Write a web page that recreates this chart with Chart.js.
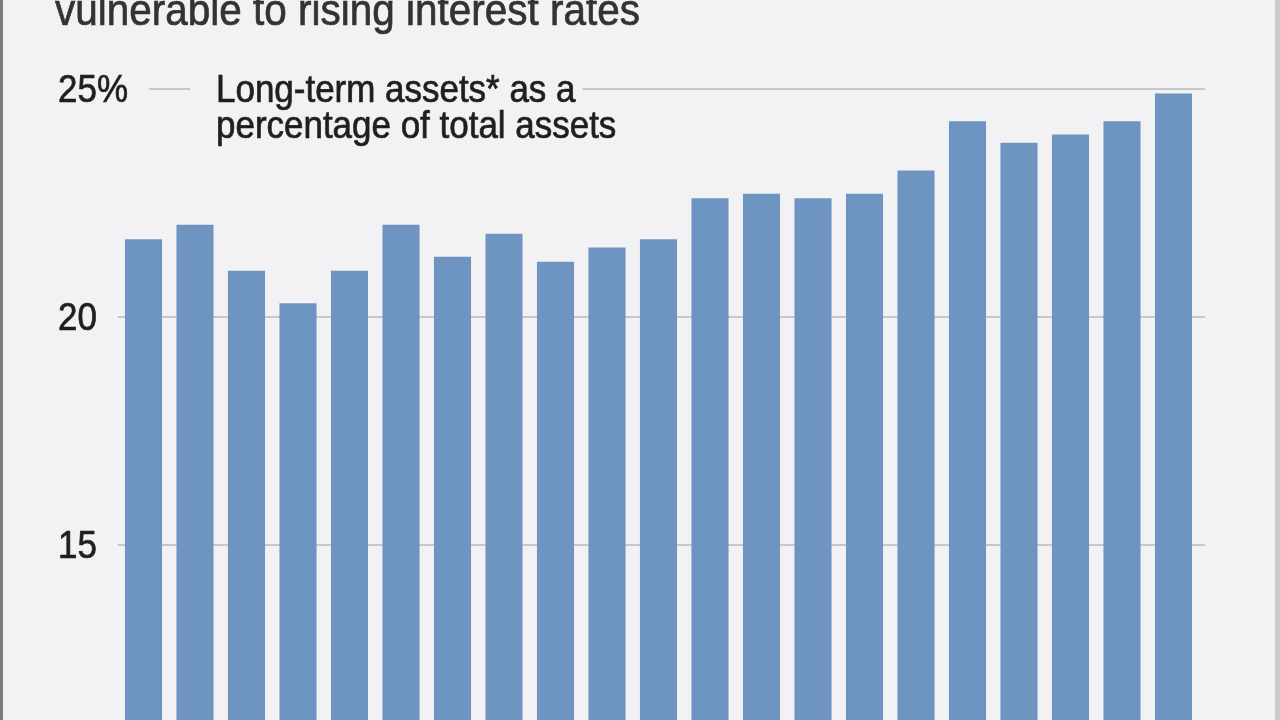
<!DOCTYPE html>
<html lang="en">
<head>
    <meta charset="UTF-8">
    <title>Long-term assets as a percentage of total assets</title>
    <script src="https://cdn.jsdelivr.net/npm/chart.js"></script>
    <style>
        html, body { margin: 0; padding: 0; background: #f2f2f4; }
        .frame {
            position: relative;
            width: 1280px;
            height: 720px;
            overflow: hidden;
            box-sizing: border-box;
            border-left: 3px solid #7d7d7f;
            border-right: 5px solid #cbcbcd;
            background: #f2f2f4;
        }
        canvas { position: absolute; left: -3px; top: 0; }
    </style>
</head>
<body>
    <div class="frame">
        <canvas id="chart" width="1280" height="720"></canvas>
    </div>
    <script>
        // Data (one bar per period, oldest first)
        const periods = ['1', '2', '3', '4', '5', '6', '7', '8', '9', '10', '11',
                         '12', '13', '14', '15', '16', '17', '18', '19', '20', '21'];
        const shares = [21.71, 22.03, 21.02, 20.31, 21.02, 22.03, 21.33, 21.83, 21.22, 21.53, 21.71,
                        22.61, 22.71, 22.61, 22.71, 23.22, 24.30, 23.83, 24.01, 24.30, 24.91];
        const yTicks = [15, 20, 25];
        const yTickLabels = ['15', '20', '25%'];
        const titleText = 'vulnerable to rising interest rates';
        const noteLines = ['Long-term assets* as a', 'percentage of total assets'];

        const FONT = "'Liberation Sans', Arial, sans-serif";
        const SQUEEZE = 0.92; // condensed look of the original typeface

        // text drawn narrower than the installed font, left aligned at x
        function narrowText(ctx, text, x, y) {
            ctx.save();
            ctx.translate(x, y);
            ctx.scale(SQUEEZE, 1);
            ctx.fillText(text, 0, 0);
            ctx.strokeStyle = ctx.fillStyle;
            ctx.lineWidth = 0.7;
            ctx.strokeText(text, 0, 0);
            ctx.restore();
        }
        function narrowWidth(ctx, text) {
            return ctx.measureText(text).width * SQUEEZE;
        }

        // gridlines, tick labels, title and note are placed from the y scale
        const decorations = {
            id: 'decorations',
            beforeDatasetsDraw(chart) {
                const ctx = chart.ctx;
                const yScale = chart.scales.y;
                ctx.save();
                ctx.font = '38px ' + FONT;
                const noteX = 216;
                const gapStart = noteX - 26;
                const gapEnd = noteX + narrowWidth(ctx, noteLines[0]) + 7;

                yTicks.forEach((v, i) => {
                    const y = Math.round(yScale.getPixelForValue(v));
                    const x0 = 58 + narrowWidth(ctx, yTickLabels[i]) + 21;
                    const x1 = 1205;
                    ctx.strokeStyle = '#c8c8ca';
                    ctx.lineWidth = 2;
                    ctx.beginPath();
                    if (i === yTicks.length - 1) {
                        ctx.moveTo(x0, y); ctx.lineTo(gapStart, y);
                        ctx.moveTo(gapEnd, y); ctx.lineTo(x1, y);
                    } else {
                        ctx.moveTo(x0, y); ctx.lineTo(x1, y);
                    }
                    ctx.stroke();
                });
                ctx.restore();
            },
            afterDraw(chart) {
                const ctx = chart.ctx;
                const yScale = chart.scales.y;
                ctx.save();
                ctx.font = '38px ' + FONT;
                ctx.fillStyle = '#1f1f1f';
                ctx.textAlign = 'left';
                ctx.textBaseline = 'alphabetic';
                yTicks.forEach((v, i) => {
                    const y = yScale.getPixelForValue(v);
                    narrowText(ctx, yTickLabels[i], 58, y + 13);
                });

                const topY = yScale.getPixelForValue(yTicks[yTicks.length - 1]);
                narrowText(ctx, noteLines[0], 216, topY + 13);
                narrowText(ctx, noteLines[1], 216, topY + 49);

                ctx.font = '44px ' + FONT;
                ctx.fillStyle = '#333333';
                narrowText(ctx, titleText, 55, 25);
                ctx.restore();
            }
        };

        new Chart(document.getElementById('chart'), {
            type: 'bar',
            data: {
                labels: periods,
                datasets: [{
                    data: shares,
                    backgroundColor: '#6e94c1',
                    borderWidth: 0,
                    barPercentage: 0.72,
                    categoryPercentage: 1.0
                }]
            },
            options: {
                responsive: false,
                animation: false,
                layout: {
                    padding: { left: 117.75, right: 80.75, top: 89.3, bottom: 0 }
                },
                plugins: {
                    legend: { display: false },
                    tooltip: { enabled: false }
                },
                scales: {
                    x: { display: false },
                    y: { display: false, min: 11.17, max: 25 }
                }
            },
            plugins: [decorations]
        });
    </script>
</body>
</html>
